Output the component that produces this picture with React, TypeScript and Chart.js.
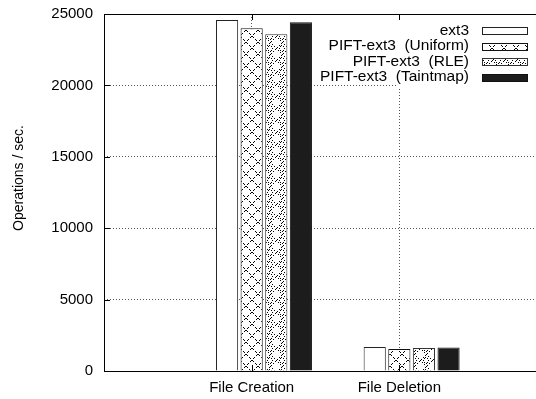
import React, { useEffect, useRef } from "react";
import { Chart, registerables } from "chart.js";

Chart.register(...registerables);

// ---- data ----
const categories = ["File Creation", "File Deletion"];
const seriesNames = ["ext3", "PIFT-ext3  (Uniform)", "PIFT-ext3  (RLE)", "PIFT-ext3  (Taintmap)"];
const ext3 = [24580, 1680];
const uniform = [24000, 1540];
const rle = [23580, 1610];
const taintmap = [24420, 1640];
const yTicks = [0, 5000, 10000, 15000, 20000, 25000];
const yTitle = "Operations / sec.";

const FONT = '"Liberation Sans", Arial, Helvetica, sans-serif';

function makeTile(size: number, draw: (px: (x: number, y: number) => void) => void) {
  const c = document.createElement("canvas");
  c.width = size;
  c.height = size;
  const ctx = c.getContext("2d")!;
  ctx.fillStyle = "#fff";
  ctx.fillRect(0, 0, size, size);
  ctx.fillStyle = "#000";
  const px = (x: number, y: number) => {
    const xx = ((Math.round(x) % size) + size) % size;
    const yy = ((Math.round(y) % size) + size) % size;
    ctx.fillRect(xx, yy, 1, 1);
  };
  draw(px);
  return ctx.createPattern(c, "repeat") as CanvasPattern;
}

function makePatterns() {
  const uni = makeTile(12, (px) => {
    for (let i = 0; i < 12; i++) {
      if (i % 3 !== 2) {
        px(i, i);
        px(11 - i, i);
      }
    }
  });
  const rl = makeTile(12, (px) => {
    for (let i = 0; i < 12; i++) {
      if (i % 2 === 0) {
        px(i, i);
        px(11 - i, i + 1);
      }
    }
    for (let k = 0; k < 8; k++) {
      const a = (k * Math.PI) / 4;
      px(5.5 + 2.6 * Math.cos(a), 0 + 2.6 * Math.sin(a));
    }
  });
  return { uni, rl };
}

export default function App() {
  const ref = useRef<HTMLCanvasElement>(null);

  useEffect(() => {
    const canvas = ref.current!;
    const { uni, rl } = makePatterns();
    const fills = ["#ffffff", uni, rl, "#1c1c1c"];
    const borders = ["#222", "#111", "#333", "#111"];
    const series = [ext3, uniform, rle, taintmap];

    const overlay = {
      id: "overlay",
      beforeDatasetsDraw(chart: any) {
        const ctx = chart.ctx;
        const a = chart.chartArea;
        const xs = chart.scales.x;
        // opaque key box
        const left = Math.round(xs.getPixelForValue(1)) - 1;
        ctx.save();
        ctx.fillStyle = "#fff";
        ctx.fillRect(left, a.top + 5, a.right - left, 69);
        ctx.restore();
      },
      afterDraw(chart: any) {
        const ctx = chart.ctx;
        const a = chart.chartArea;
        const xs = chart.scales.x;
        const ys = chart.scales.y;
        ctx.save();
        // frame
        ctx.strokeStyle = "#000";
        ctx.lineWidth = 1;
        ctx.beginPath();
        ctx.moveTo(a.left + 0.5, a.top + 0.5);
        ctx.lineTo(a.right + 0.5, a.top + 0.5);
        ctx.lineTo(a.right + 0.5, a.bottom + 0.5);
        ctx.lineTo(a.left + 0.5, a.bottom + 0.5);
        ctx.closePath();
        ctx.stroke();
        // tick marks
        ctx.beginPath();
        for (const v of yTicks) {
          const y = Math.round(ys.getPixelForValue(v)) + 0.5;
          ctx.moveTo(a.left, y);
          ctx.lineTo(a.left + 6, y);
          ctx.moveTo(a.right - 6, y);
          ctx.lineTo(a.right, y);
        }
        categories.forEach((_, i) => {
          const x = Math.round(xs.getPixelForValue(i)) + 0.5;
          ctx.moveTo(x, a.top);
          ctx.lineTo(x, a.top + 6);
          ctx.moveTo(x, a.bottom);
          ctx.lineTo(x, a.bottom - 6);
        });
        ctx.stroke();

        // legend
        ctx.font = `15.5px ${FONT}`;
        ctx.textAlign = "right";
        ctx.textBaseline = "middle";
        const rowY = [a.top + 16.5, a.top + 32, a.top + 47.5, a.top + 63];
        seriesNames.forEach((name, i) => {
          const cy = rowY[i];
          ctx.fillStyle = "#000";
          ctx.fillText(name, 469, cy);
          const top = Math.round(cy - 3.5);
          ctx.fillStyle = fills[i] as any;
          ctx.fillRect(482, top, 45, 7);
          ctx.strokeStyle = borders[i];
          ctx.strokeRect(482.5, top + 0.5, 45, 7);
        });

        // y title
        ctx.save();
        ctx.translate(19, 178);
        ctx.rotate(-Math.PI / 2);
        ctx.textAlign = "center";
        ctx.textBaseline = "middle";
        ctx.font = `14px ${FONT}`;
        ctx.fillStyle = "#000";
        ctx.fillText(yTitle, 0, 0);
        ctx.restore();
        ctx.restore();
      },
    };

    const chart = new Chart(canvas, {
      type: "bar",
      data: {
        datasets: series.map((vals, s) => ({
          label: seriesNames[s],
          data: vals.map((v, i) => ({ x: i + 1 / 12, y: v })),
          backgroundColor: fills[s] as any,
          borderColor: borders[s],
          borderWidth: 1,
          barPercentage: 0.9,
          categoryPercentage: 2 / 3,
        })),
      },
      options: {
        animation: false,
        responsive: false,
        devicePixelRatio: 1,
        layout: { padding: { top: 14, right: 13, left: 0, bottom: 0 } },
        plugins: { legend: { display: false }, tooltip: { enabled: false } },
        scales: {
          x: {
            type: "linear",
            min: -1,
            max: 2,
            offset: false,
            afterBuildTicks: (scale: any) => {
              scale.ticks = categories.map((_, i) => ({ value: i }));
            },
            afterFit: (scale: any) => {
              scale.height = 28;
              scale.paddingLeft = 0;
              scale.paddingRight = 0;
            },
            ticks: {
              autoSkip: false,
              maxRotation: 0,
              padding: 8,
              color: "#000",
              font: { family: FONT, size: 15 },
              callback: (v: any) => categories[v] ?? "",
            },
            grid: { color: "#555", lineWidth: 1, drawTicks: false, offset: false },
            border: { display: false, dash: [1, 2] },
          },
          y: {
            min: 0,
            max: 25000,
            afterBuildTicks: (scale: any) => {
              scale.ticks = yTicks.map((v) => ({ value: v }));
            },
            afterFit: (scale: any) => {
              scale.width = 104;
              scale.paddingTop = 0;
              scale.paddingBottom = 0;
            },
            ticks: {
              padding: 11,
              color: "#000",
              font: { family: FONT, size: 15 },
              callback: (v: any) => String(v),
            },
            grid: { color: "#555", lineWidth: 1, drawTicks: false },
            border: { display: false, dash: [1, 2] },
          },
        },
      },
      plugins: [overlay],
    } as any);
    return () => chart.destroy();
  }, []);

  return (
    <div
      style={{
        position: "fixed",
        left: 0,
        top: 0,
        width: 536,
        height: 399,
        overflow: "hidden",
        background: "#fff",
      }}
    >
      <canvas ref={ref} width={560} height={399} style={{ width: 560, height: 399, display: "block" }} />
    </div>
  );
}
